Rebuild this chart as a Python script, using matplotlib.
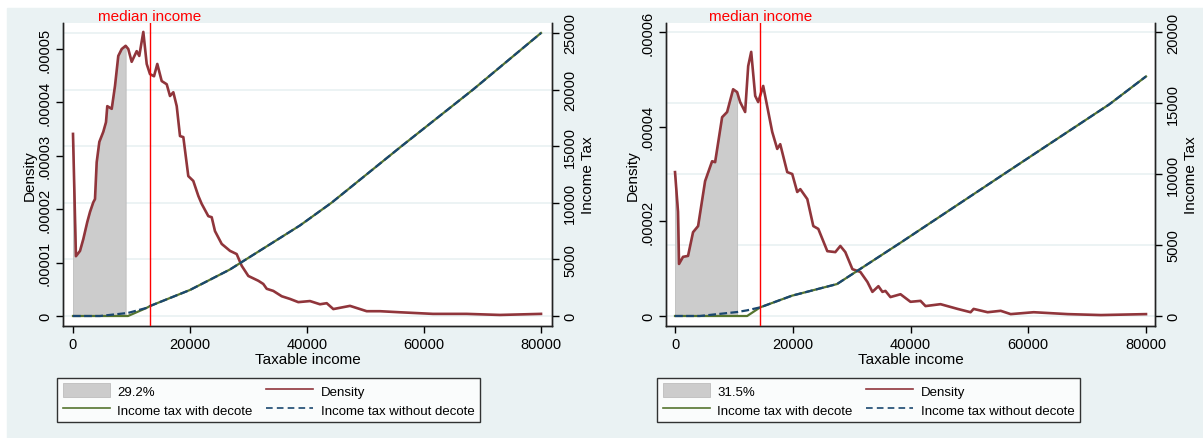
import matplotlib.pyplot as plt
import matplotlib.transforms as mtransforms
from matplotlib.patches import Rectangle, Patch
from matplotlib.lines import Line2D
import numpy as np

plt.rcParams['font.family'] = ['Liberation Sans', 'DejaVu Sans']

# left panel: kernel density of taxable income (density in 1e-5)
left_income = [0, 500, 1200, 1760, 2440, 2910, 3470, 3760, 4050, 4500, 5180, 5640, 5860,
               6620, 7180, 7740, 8330, 9000, 9450, 10030, 10890, 11330, 12020, 12600,
               13160, 13850, 14410, 15160, 16020, 16580, 17150, 17730, 18290, 18860,
               19710, 20560, 21420, 22000, 23130, 23710, 24270, 25420, 26840, 27980,
               28840, 29970, 31680, 32530, 33110, 34240, 35680, 37090, 38510, 40510,
               42220, 43370, 44500, 47350, 50200, 52480, 55900, 61540, 67300, 72990, 80000]
left_density = [3.41, 1.12, 1.22, 1.44, 1.76, 1.95, 2.13, 2.19, 2.88, 3.26, 3.45, 3.63, 3.93,
                3.88, 4.31, 4.87, 5.00, 5.06, 5.00, 4.76, 4.96, 4.87, 5.32, 4.72,
                4.53, 4.49, 4.72, 4.40, 4.34, 4.12, 4.19, 3.93, 3.37, 3.35,
                2.62, 2.53, 2.25, 2.10, 1.87, 1.85, 1.59, 1.35, 1.22, 1.16,
                0.94, 0.75, 0.66, 0.60, 0.51, 0.47, 0.37, 0.32, 0.26, 0.28,
                0.22, 0.24, 0.13, 0.19, 0.09, 0.09, 0.07, 0.04, 0.04, 0.02, 0.04]
left_tax_income = [0, 4600, 9400, 12600, 13160, 20000, 26800, 38800, 44180, 56150, 68380, 80000]
left_tax_decote = [0, 0, 0, 720, 880, 2300, 4100, 8000, 10000, 15000, 20000, 25000]
left_tax_nodecote = [0, 0, 270, 720, 880, 2300, 4100, 8000, 10000, 15000, 20000, 25000]
left_median = 13160
left_cut = 9000
left_share = "29.2%"

# right panel
right_income = [0, 510, 680, 1360, 2210, 3060, 3920, 5110, 6300, 6810, 8000, 8850, 9870,
                10550, 11060, 11910, 12430, 12940, 13620, 14130, 14980, 16510, 17360,
                17870, 19060, 19910, 20760, 21280, 22470, 23490, 24340, 25870, 27230,
                28080, 28930, 30130, 31490, 32680, 33530, 34550, 35230, 35740, 36590,
                38300, 40000, 41700, 42550, 45100, 48000, 50210, 50720, 53100, 55320,
                57020, 60930, 66720, 72340, 80000]
right_density = [3.04, 2.20, 1.10, 1.25, 1.27, 1.77, 1.90, 2.85, 3.27, 3.25, 4.20, 4.31, 4.79,
                 4.73, 4.52, 4.31, 5.28, 5.58, 4.65, 4.52, 4.86, 3.89, 3.53,
                 3.63, 3.04, 3.00, 2.62, 2.68, 2.47, 1.90, 1.84, 1.37, 1.35,
                 1.48, 1.35, 0.99, 0.93, 0.72, 0.51, 0.63, 0.51, 0.53, 0.40,
                 0.46, 0.30, 0.32, 0.21, 0.25, 0.15, 0.08, 0.15, 0.08, 0.11,
                 0.04, 0.08, 0.04, 0.02, 0.04]
right_tax_income = [0, 4200, 10550, 12250, 14470, 19860, 27520, 38300, 55880, 73750, 80000]
right_tax_decote = [0, 0, 0, 0, 610, 1430, 2250, 5160, 10000, 14900, 16870]
right_tax_nodecote = [0, 0, 280, 400, 610, 1430, 2250, 5160, 10000, 14900, 16870]
right_median = 14470
right_cut = 10550
right_share = "31.5%"

x_ticks = [0, 20000, 40000, 60000, 80000]
left_dens_ticks = [0, 1e-5, 2e-5, 3e-5, 4e-5, 5e-5]
left_dens_labels = ["0", ".00001", ".00002", ".00003", ".00004", ".00005"]
right_dens_ticks = [0, 2e-5, 4e-5, 6e-5]
right_dens_labels = ["0", ".00002", ".00004", ".00006"]
left_tax_ticks = [0, 5000, 10000, 15000, 20000, 25000]
right_tax_ticks = [0, 5000, 10000, 15000, 20000]

# Stata s2color
BG = "#EAF2F3"
MAROON = "#90353B"
GREEN = "#55752F"
NAVY = "#1A476F"
GRAY = "#CCCCCC"

W, H = 1203, 439
fig = plt.figure(figsize=(W / 100, H / 100), dpi=100)
# one graph region behind both panels
fig.patches.append(Rectangle((7 / W, 0), (W - 7) / W, 430 / H,
                             transform=fig.transFigure, color=BG, zorder=-5))


def draw_panel(left_px, inc, dens, tinc, twith, twithout, median, cut, share,
               xlim, dlim, tlim, dticks, dlabels, tticks, legend_x):
    ax = fig.add_axes([left_px / W, 112 / H, 489 / W, 303 / H])
    ax2 = ax.twinx()

    inc = np.array(inc)
    dens = np.array(dens) * 1e-5
    m = inc <= cut
    ax.fill_between(inc[m], 0, dens[m], color=GRAY, lw=0.6, edgecolor="#BDBDBD", zorder=2)
    ax.plot(inc, dens, color=MAROON, lw=1.9, zorder=3)

    ax2.plot(tinc, twith, color=GREEN, lw=1.6, zorder=3)
    ax2.plot(tinc, twithout, color=NAVY, lw=1.6, dashes=(3.5, 1.5), zorder=4)
    ax2.axvline(median, color="red", lw=1.0, zorder=5)

    ax.set_xlim(*xlim)
    ax.set_ylim(*dlim)
    ax2.set_ylim(*tlim)

    # grid lines follow the tax axis, drawn under the curves
    tr = mtransforms.blended_transform_factory(ax.transAxes, ax2.transData)
    for t in tticks:
        ax.add_line(Line2D([0, 1], [t, t], transform=tr, color=BG, lw=1.3, zorder=1))

    ax2.text(median, 1.023, "median income", color="red", fontsize=11, ha="center", va="center",
             transform=mtransforms.blended_transform_factory(ax2.transData, ax2.transAxes),
             clip_on=False)

    ax.set_xticks(x_ticks)
    ax.set_xticklabels([str(v) for v in x_ticks])
    ax.set_yticks(dticks)
    ax.set_yticklabels(dlabels)
    ax2.set_yticks(tticks)
    ax2.set_yticklabels([str(v) for v in tticks])

    for a in (ax, ax2):
        a.spines["top"].set_visible(False)
        for s in a.spines.values():
            s.set_linewidth(1.0)
            s.set_color("#222222")
        a.tick_params(direction="out", length=5, width=1, labelsize=10.5, pad=3)
    ax.tick_params(axis="y", labelrotation=90)
    ax2.tick_params(axis="y", labelrotation=90)
    for lbl in ax.get_yticklabels() + ax2.get_yticklabels():
        lbl.set_va("center")

    ax.set_xlabel("Taxable income", fontsize=11, labelpad=1)
    ax.set_ylabel("Density", fontsize=11, labelpad=1)
    ax2.set_ylabel("Income Tax", fontsize=11, labelpad=3)

    handles = [Patch(facecolor=GRAY, edgecolor="#BDBDBD", lw=0.6),
               Line2D([], [], color=GREEN, lw=1.2),
               Line2D([], [], color=MAROON, lw=1.2),
               Line2D([], [], color=NAVY, lw=1.2, dashes=(4, 2.5))]
    labels = [share, "Income tax with decote", "Density", "Income tax without decote"]
    leg = fig.legend(handles, labels, ncol=2, loc="center", bbox_to_anchor=(legend_x / W, 38 / H),
                     fontsize=9.5, frameon=True, fancybox=False, edgecolor="black",
                     handlelength=3.6, handleheight=1.2, handletextpad=0.55,
                     columnspacing=1.0, borderpad=0.45, labelspacing=0.35, borderaxespad=0)
    leg.get_frame().set_linewidth(1.0)
    leg.get_frame().set_facecolor("white")


draw_panel(63, left_income, left_density, left_tax_income, left_tax_decote,
           left_tax_nodecote, left_median, left_cut, left_share,
           (-1709, 81880), (-1.87e-6, 5.487e-5), (-883, 25883),
           left_dens_ticks, left_dens_labels, left_tax_ticks, 268.5)
draw_panel(666, right_income, right_density, right_tax_income, right_tax_decote,
           right_tax_nodecote, right_median, right_cut, right_share,
           (-1532, 81532), (-2.11e-6, 6.19e-5), (-704, 20634),
           right_dens_ticks, right_dens_labels, right_tax_ticks, 868.5)

fig.savefig("out.png", dpi=100, facecolor="white")
